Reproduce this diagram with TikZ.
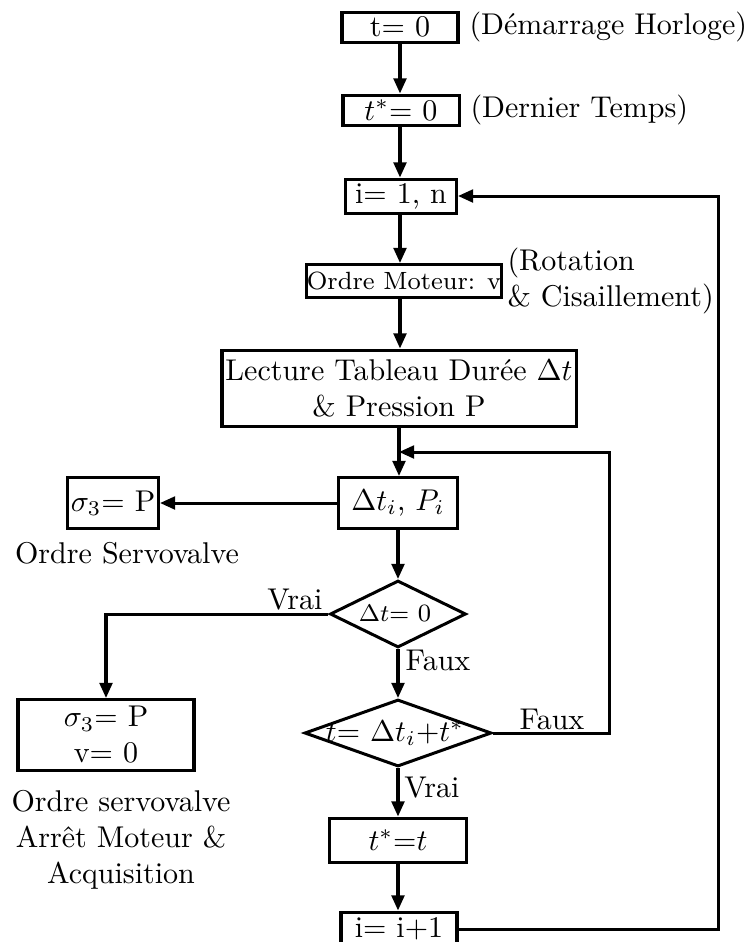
\documentclass[tikz,border=0pt]{standalone}
\usetikzlibrary{arrows.meta,shapes.geometric,calc}
\newcommand\pxu{0.333pt}
\newcommand\smalltxt{\fontsize{8.3}{10}\selectfont}
\begin{document}
\begin{tikzpicture}[x=0.333pt,y=-0.333pt,line width=1pt,
  box/.style={draw,rectangle,inner sep=0pt,align=center},
  dia/.style={draw,diamond,inner sep=0pt},
  lbl/.style={inner sep=0pt,align=center},
  arr/.style={-{Triangle[length=5pt,width=4.2pt]}}]
\useasboundingbox[fill=white] (0,0) rectangle (744,942);

% boxes
\node[box,minimum width=116*\pxu,minimum height=30*\pxu] (b1) at (400,27) {t$=$ 0};
\node[box,minimum width=116*\pxu,minimum height=30*\pxu] (b2) at (401,110) {$t^*$$=$ 0};
\node[box,minimum width=111*\pxu,minimum height=34*\pxu] (b3) at (401,196) {i$=$ 1, n};
\node[box,minimum width=192*\pxu,minimum height=33*\pxu,font=\smalltxt] (b4) at (404,281) {Ordre Moteur: v};
\node[box,minimum width=354*\pxu,minimum height=76*\pxu] (b5) at (399,388) {Lecture Tableau Durée $\Delta t$\\\& Pression P};
\node[box,minimum width=119*\pxu,minimum height=51*\pxu] (b6) at (398,503) {$\Delta t_i$, $P_i$};
\node[box,minimum width=91*\pxu,minimum height=51*\pxu] (b7) at (113,503) {$\sigma_3$$=$ P};
\node[dia,minimum width=136*\pxu,minimum height=67*\pxu] (d1) at (398,614) {};
\node[lbl,font=\smalltxt] (d1t) at (395,613) {$\Delta t$$=$ 0};
\node[box,minimum width=176*\pxu,minimum height=71*\pxu] (b8) at (106,735) {$\sigma_3$$=$ P\\v$=$ 0};
\node[dia,minimum width=187*\pxu,minimum height=67*\pxu] (d2) at (398,733) {};
\node[lbl] (d2t) at (395,733) {$t$$=$ $\Delta t_i$$+$$t^*$};
\node[box,minimum width=137*\pxu,minimum height=44*\pxu] (b9) at (398,840) {$t^*$$=$$t$};
\node[box,minimum width=116*\pxu,minimum height=34*\pxu] (b10) at (399,929) {i$=$ i$+$1};

% labels
\node[lbl,anchor=west] (l1) at (468,27) {(Démarrage Horloge)};
\node[lbl,anchor=west] (l2) at (469,110) {(Dernier Temps)};
\node[lbl,anchor=west,align=left] (l4) at (506,281) {(Rotation\\\& Cisaillement)};
\node[lbl] (l7) at (127,553) {Ordre Servovalve};
\node[lbl] (l8) at (121,840) {Ordre servovalve\\Arrêt Moteur \&\\Acquisition};
\node[lbl] (v1) at (295,600) {Vrai};
\node[lbl] (f1) at (438,660) {Faux};
\node[lbl] (f2) at (552,719) {Faux};
\node[lbl] (v2) at (432,788) {Vrai};

% coordinates
\coordinate (jn) at (399,452);
\coordinate (rt) at (609,733);
\coordinate (ro) at (718,929);

% connectors
\draw[arr] (b1) -- (b1 |- b2.north);
\draw[arr] (b1 |- b2.south) -- (b1 |- b3.north);
\draw[arr] (b1 |- b3.south) -- (b1 |- b4.north);
\draw[arr] (b1 |- b4.south) -- (b1 |- b5.north);
\draw[arr] (b5) -- (b5 |- b6.north);
\draw[arr] (b6) -- (b7);
\draw[arr] (b6) -- (b6 |- d1.north);
\draw[arr] (d1.west) -| (b8.north);
\draw[arr] (d1) -- (d2);
\draw[arr] (d2) -- (b9);
\draw[arr] (b9) -- (b9 |- b10.north);
\draw[arr] (d2.east) -- (rt) |- (jn);
\draw[arr] (b10.east) -- (ro) |- (b3.east);
\end{tikzpicture}
\end{document}
